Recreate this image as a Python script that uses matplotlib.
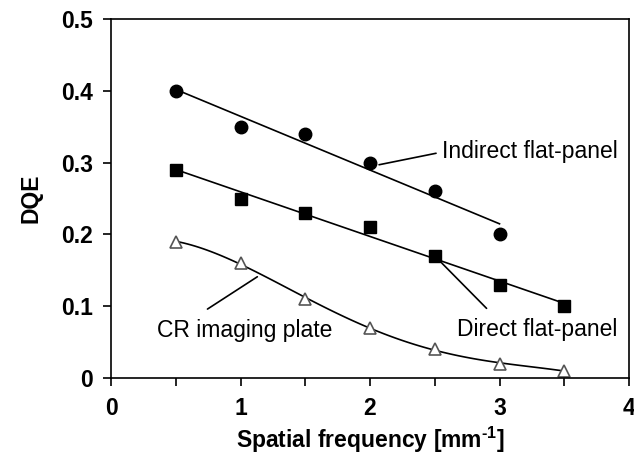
import numpy as np
import matplotlib
matplotlib.use('Agg')
import matplotlib.pyplot as plt

plt.rcParams['font.family'] = ['Liberation Sans', 'DejaVu Sans']
plt.rcParams['mathtext.fontset'] = 'custom'
plt.rcParams['mathtext.rm'] = 'Liberation Sans:bold'
plt.rcParams['mathtext.bf'] = 'Liberation Sans:bold'

# data
freq_indirect = [0.5, 1.0, 1.5, 2.0, 2.5, 3.0]
dqe_indirect = [0.40, 0.35, 0.34, 0.30, 0.26, 0.20]
freq_direct = [0.5, 1.0, 1.5, 2.0, 2.5, 3.0, 3.5]
dqe_direct = [0.29, 0.25, 0.23, 0.21, 0.17, 0.13, 0.10]
freq_cr = [0.5, 1.0, 1.5, 2.0, 2.5, 3.0, 3.5]
dqe_cr = [0.19, 0.16, 0.11, 0.07, 0.04, 0.02, 0.01]

fig = plt.figure(figsize=(6.34, 4.57), dpi=100)
ax = fig.add_axes([111/634, 1-378/457, 518/634, 359/457])

# fitted trend lines
xi = np.array([freq_indirect[0], freq_indirect[-1]])
ax.plot(xi, np.polyval(np.polyfit(freq_indirect, dqe_indirect, 1), xi), 'k-', lw=1.2)
xd = np.array([freq_direct[0], freq_direct[-1]])
ax.plot(xd, np.polyval(np.polyfit(freq_direct, dqe_direct, 1), xd), 'k-', lw=1.2)
xc = np.linspace(freq_cr[0], freq_cr[-1], 100)
ax.plot(xc, np.polyval(np.polyfit(freq_cr, dqe_cr, 4), xc), 'k-', lw=1.2)

ax.plot(freq_indirect, dqe_indirect, 'o', color='k', ms=9)
ax.plot(freq_direct, dqe_direct, 's', color='k', ms=8.5)
ax.plot(freq_cr, dqe_cr, '^', mfc='white', mec='#555555', mew=1.2, ms=8.5)

# labels and leader lines
lead = dict(arrowstyle='-', lw=1.2, color='k', shrinkA=0, shrinkB=0)
ax.annotate('', xy=(2.07, 0.297), xytext=(2.51, 0.313), arrowprops=lead)
ax.text(2.555, 0.315, 'Indirect flat-panel', fontsize=16.5, va='center', ha='left')
ax.annotate('', xy=(2.555, 0.160), xytext=(2.90, 0.097), arrowprops=lead)
ax.text(2.67, 0.068, 'Direct flat-panel', fontsize=16.5, va='center', ha='left')
ax.annotate('', xy=(1.13, 0.141), xytext=(0.745, 0.096), arrowprops=lead)
ax.text(0.355, 0.066, 'CR imaging plate', fontsize=16.5, va='center', ha='left')

ax.set_xlim(0, 4)
ax.set_ylim(0, 0.5)
ax.set_xticks([0, 1, 2, 3, 4])
ax.set_xticks([0.5, 1.5, 2.5, 3.5], minor=True)
ax.set_yticks([0, 0.1, 0.2, 0.3, 0.4, 0.5])
ax.set_yticklabels(['0', '0.1', '0.2', '0.3', '0.4', '0.5'])
ax.tick_params(which='both', direction='out', length=6, width=1.2)
ax.tick_params(axis='y', labelsize=16.5, pad=7)
ax.tick_params(axis='x', labelsize=16.5, pad=8)
for lab in ax.get_xticklabels() + ax.get_yticklabels():
    lab.set_fontweight('bold')
for s in ax.spines.values():
    s.set_linewidth(1.2)

ax.set_xlabel(r'Spatial frequency [mm$^{\text{-1}}$]', fontsize=16.5, fontweight='bold', labelpad=3)
ax.set_ylabel('DQE', fontsize=16.5, fontweight='bold', labelpad=13)

fig.savefig('out.png', dpi=100)
